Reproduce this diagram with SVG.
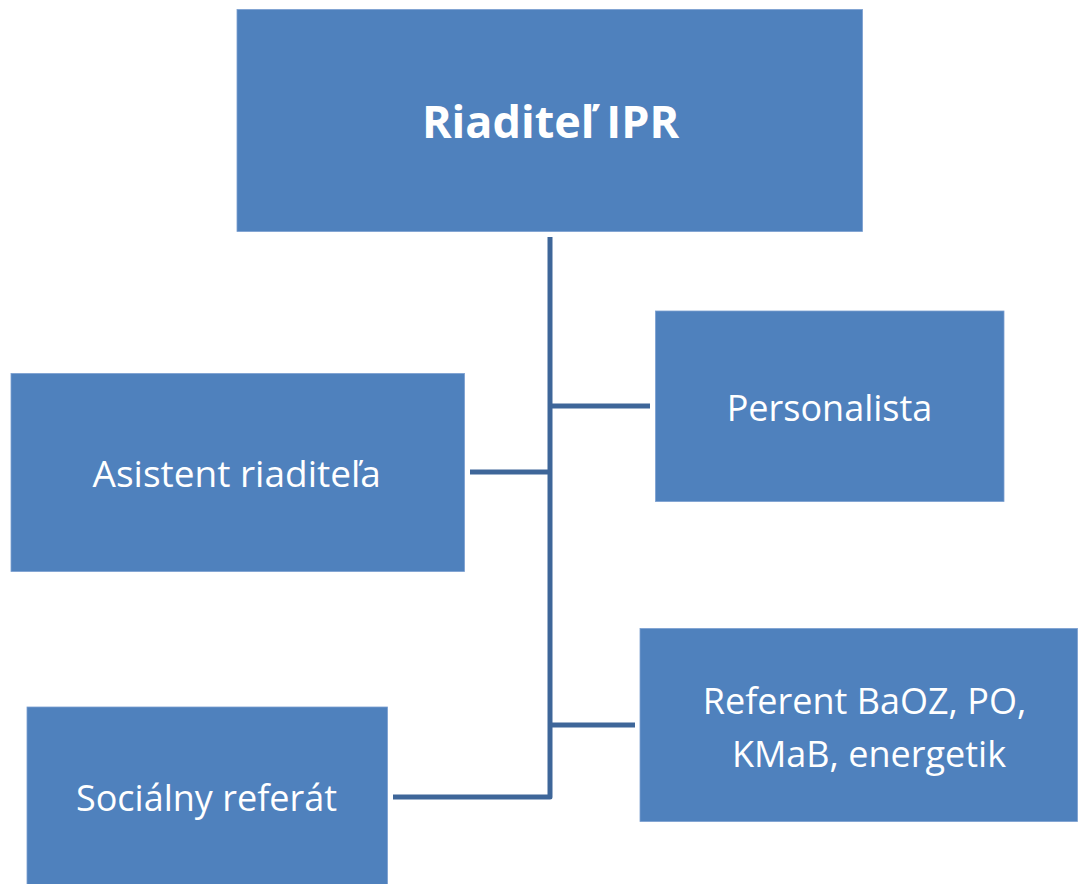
<svg xmlns="http://www.w3.org/2000/svg" width="1078" height="884" viewBox="0 0 1078 884">
<style>
.box{fill:#4F81BD;stroke:#7A9FD0;stroke-width:0.8}
.t{fill:#FFFFFF;font-family:"Open Sans","Noto Sans","Liberation Sans",sans-serif;font-size:36px;text-anchor:middle}
.tb{font-weight:bold;font-size:45px}
.c{fill:none;stroke:#3E6699;stroke-width:5;stroke-linejoin:round}
</style>
<rect width="1078" height="884" fill="#FFFFFF"/>
<g id="connectors">
<path class="c" d="M550,237 V797 H393"/>
<path class="c" d="M550,406 H650"/>
<path class="c" d="M550,472 H470"/>
<path class="c" d="M550,725 H635"/>
</g>
<g id="riaditel">
<rect class="box" x="237" y="9.5" width="625.5" height="222"/>
<text class="t tb" x="550.5" y="138">Riaditeľ IPR</text>
</g>
<g id="personalista">
<rect class="box" x="655.5" y="311" width="348.5" height="190.5"/>
<text class="t" x="829.5" y="421">Personalista</text>
</g>
<g id="asistent">
<rect class="box" x="11" y="373.5" width="453.5" height="198"/>
<text class="t" x="236.7" y="487" style="font-size:37px">Asistent riaditeľa</text>
</g>
<g id="referent">
<rect class="box" x="640" y="628.5" width="437.5" height="193"/>
<text class="t" x="864.5" y="714">Referent BaOZ, PO,</text>
<text class="t" x="869" y="767">KMaB, energetik</text>
</g>
<g id="socialny">
<rect class="box" x="27" y="707" width="360.5" height="178"/>
<text class="t" x="206.5" y="811">Sociálny referát</text>
</g>
</svg>
